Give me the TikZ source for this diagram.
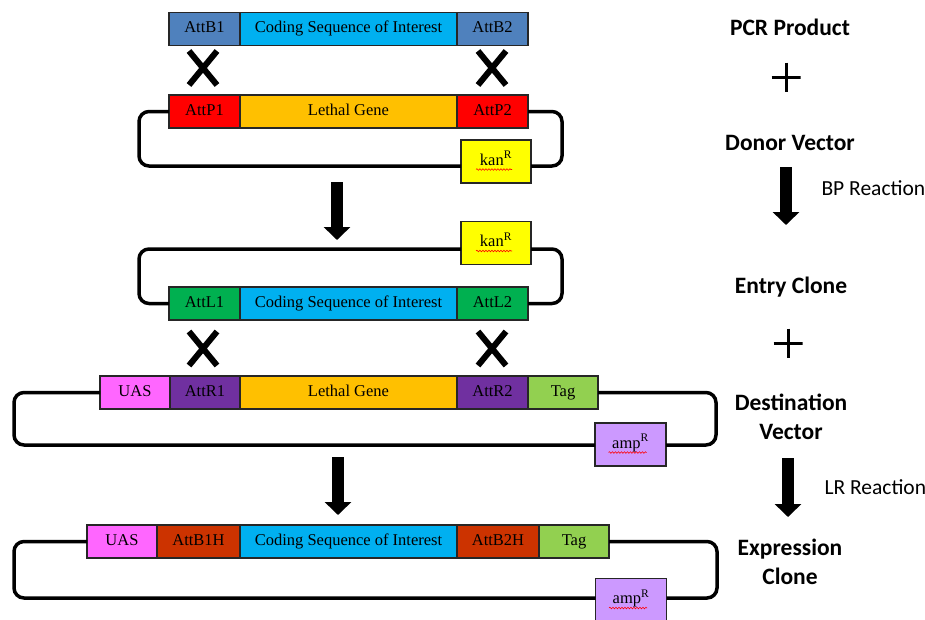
\documentclass[tikz,border=0pt]{standalone}
\usepackage{fontspec}
\setmainfont{Liberation Serif}
\newfontfamily\calib{Carlito}
\usepackage{xcolor}
\usetikzlibrary{arrows.meta, shapes.misc, decorations.pathmorphing}

\definecolor{attB}{HTML}{4F81BD}
\definecolor{cds}{HTML}{00B0F0}
\definecolor{attP}{HTML}{FF0000}
\definecolor{lethal}{HTML}{FFC000}
\definecolor{kan}{HTML}{FFFF00}
\definecolor{attL}{HTML}{00B050}
\definecolor{uas}{HTML}{FF66FF}
\definecolor{attR}{HTML}{7030A0}
\definecolor{tag}{HTML}{92D050}
\definecolor{amp}{HTML}{CC99FF}
\definecolor{attBH}{HTML}{CC3300}

\begin{document}
\begin{tikzpicture}[x=1pt, y=-1pt,
        seg/.style={draw=black!85, line width=1.1pt, inner sep=0pt, outer sep=0pt, minimum height=33pt, text height=11pt, text depth=3.5pt, font=\fontsize{16.5}{16.5}\selectfont},
        marker/.style={seg, minimum width=70pt, minimum height=43pt},
        dna/.style={line width=3.5pt, rounded corners=10pt},
        swap/.style={cross out, draw, line width=6pt, minimum width=22pt, minimum height=28pt},
        plus/.style={minimum size=29pt, path picture={\draw[line width=3pt] (path picture bounding box.north) -- (path picture bounding box.south) (path picture bounding box.west) -- (path picture bounding box.east);}},
        react/.style={-{Triangle[width=26pt, length=13pt]}, line width=12pt},
        title/.style={font=\calib\bfseries\fontsize{23.5}{29}\selectfont, align=center},
        note/.style={font=\calib\fontsize{21.5}{21.5}\selectfont, anchor=west},
        squig/.style={red, line width=0.6pt, decorate, decoration={snake, amplitude=0.8pt, segment length=3pt}}
    ]
    \useasboundingbox (0,0) rectangle (925,619);

    % PCR product
    \node (attB1) at (204.5,29) [seg, fill=attB, minimum width=71pt] {AttB1};
    \node (cdsA) at (348.5,29) [seg, fill=cds, minimum width=217pt] {Coding Sequence of Interest};
    \node (attB2) at (492.5,29) [seg, fill=attB, minimum width=71pt] {AttB2};

    \node (xA1) at (203,68) [swap] {};
    \node (xA2) at (492,68) [swap] {};

    % donor vector
    \node (attP1) at (204.5,111.5) [seg, fill=attP, minimum width=71pt] {AttP1};
    \node (lethalD) at (348.5,111.5) [seg, fill=lethal, minimum width=217pt] {Lethal Gene};
    \node (attP2) at (492.5,111.5) [seg, fill=attP, minimum width=71pt] {AttP2};
    \node (kanD) at (496,161.5) [marker, fill=kan] {kan\textsuperscript{R}};
    \draw [squig] ([shift={(-20,8)}]kanD.center) -- ++(36,0);

    \draw [dna] (attP1.west) -| (139,166) -- (kanD.west |- 0,166);
    \draw [dna] (attP2.east) -| (562,166) -- (kanD.east |- 0,166);

    \coordinate (bpTop) at (337,182);
    \coordinate (bpTip) at (337,240);
    \draw [react] (bpTop) -- (bpTip);

    % entry clone
    \node (kanE) at (496,243) [marker, fill=kan] {kan\textsuperscript{R}};
    \draw [squig] ([shift={(-20,8)}]kanE.center) -- ++(36,0);
    \node (attL1) at (204.5,303.5) [seg, fill=attL, minimum width=71pt] {AttL1};
    \node (cdsE) at (348.5,303.5) [seg, fill=cds, minimum width=217pt] {Coding Sequence of Interest};
    \node (attL2) at (492.5,303.5) [seg, fill=attL, minimum width=71pt] {AttL2};

    \draw [dna] (kanE.west |- 0,249) -| (139,303.5) -- (attL1.west);
    \draw [dna] (kanE.east |- 0,249) -| (562,303.5) -- (attL2.east);

    \node (xB1) at (203,348.5) [swap] {};
    \node (xB2) at (492,348.5) [swap] {};

    % destination vector
    \node (uasD) at (135,392.5) [seg, fill=uas, minimum width=70pt] {UAS};
    \node (attR1) at (205,392.5) [seg, fill=attR, minimum width=70pt] {AttR1};
    \node (lethalV) at (348.5,392.5) [seg, fill=lethal, minimum width=217pt] {Lethal Gene};
    \node (attR2) at (492.5,392.5) [seg, fill=attR, minimum width=71pt] {AttR2};
    \node (tagD) at (563,392.5) [seg, fill=tag, minimum width=70pt] {Tag};
    \node (ampD) at (630.5,444.5) [marker, fill=amp, minimum width=71pt] {amp\textsuperscript{R}};
    \draw [squig] ([shift={(-22,8)}]ampD.center) -- ++(38,0);

    \draw [dna] (uasD.west) -| (14,445) -- (ampD.west |- 0,445);
    \draw [dna] (tagD.east) -| (716,445) -- (ampD.east |- 0,445);

    \coordinate (lrTop) at (338,457);
    \coordinate (lrTip) at (338,515);
    \draw [react] (lrTop) -- (lrTip);

    % expression clone
    \node (uasX) at (122,541.5) [seg, fill=uas, minimum width=70pt] {UAS};
    \node (attB1H) at (198.5,541.5) [seg, fill=attBH, minimum width=83pt] {AttB1H};
    \node (cdsX) at (348.5,541.5) [seg, fill=cds, minimum width=217pt] {Coding Sequence of Interest};
    \node (attB2H) at (498,541.5) [seg, fill=attBH, minimum width=82pt] {AttB2H};
    \node (tagX) at (574,541.5) [seg, fill=tag, minimum width=70pt] {Tag};
    \node (ampX) at (631,600) [marker, fill=amp, minimum width=71pt] {amp\textsuperscript{R}};
    \draw [squig] ([shift={(-22,8)}]ampX.center) -- ++(38,0);

    \draw [dna] (uasX.west) -| (14,598) -- (ampX.west |- 0,598);
    \draw [dna] (tagX.east) -| (717,598) -- (ampX.east |- 0,598);

    % right hand labels
    \node (pcr) at (790,27) [title] {PCR Product};
    \node (plus1) at (786,77) [plus] {};
    \node (donor) at (790,143) [title] {Donor Vector};
    \coordinate (bpA) at (786,167);
    \coordinate (bpB) at (786,225);
    \draw [react] (bpA) -- (bpB);
    \node (bp) at (818,188) [note] {BP Reaction};
    \node (entry) at (791,287) [title] {Entry Clone};
    \node (plus2) at (788,343) [plus] {};
    \node (dest) at (791,417) [title] {Destination\\Vector};
    \coordinate (lrA) at (788,458);
    \coordinate (lrB) at (788,517);
    \draw [react] (lrA) -- (lrB);
    \node (lr) at (821,487) [note] {LR Reaction};
    \node (expr) at (790,562) [title] {Expression\\Clone};

\end{tikzpicture}
\end{document}
